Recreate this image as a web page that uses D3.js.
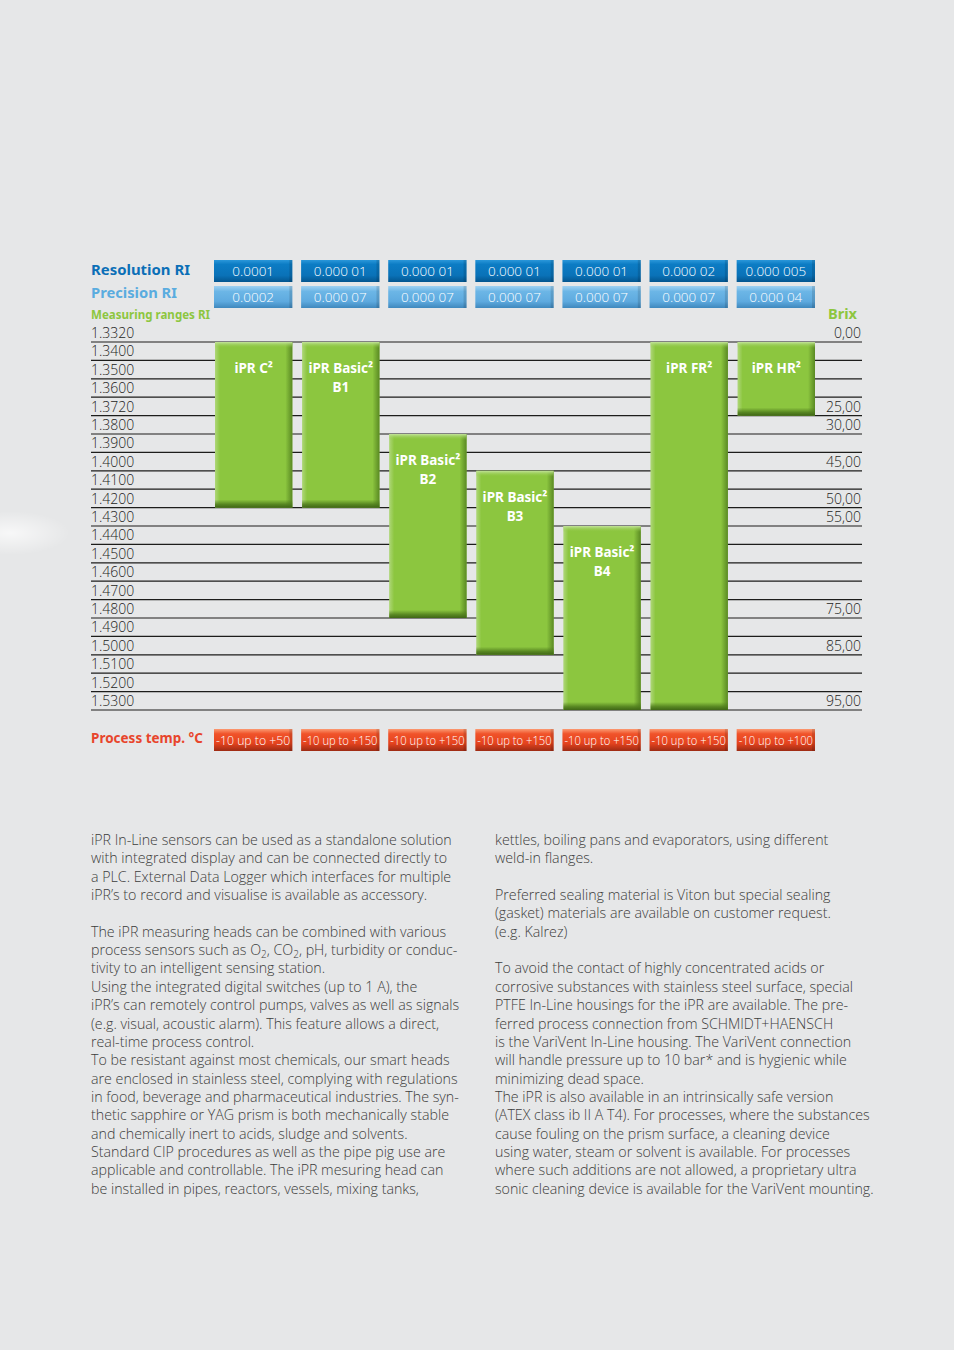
<!DOCTYPE html>
<html lang="en">
<head>
  <meta charset="UTF-8">
  <title>iPR measuring ranges</title>
  <style>
    * {box-sizing: border-box;}
    html, body { margin: 0; padding: 0; background: #e6e7e8; }
    svg { display: block; }
  </style>
</head>
<body>
  <svg id="chart"></svg>

  <script src="https://d3js.org/d3.v7.min.js"></script>
  <script>
    // --- data ---
    const riRows = ['1.3320','1.3400','1.3500','1.3600','1.3720','1.3800','1.3900','1.4000','1.4100','1.4200',
      '1.4300','1.4400','1.4500','1.4600','1.4700','1.4800','1.4900','1.5000','1.5100','1.5200','1.5300']
    const brixAt = ['1.3320','1.3720','1.3800','1.4000','1.4200','1.4300','1.4800','1.5000','1.5300']
    const brixLabels = ['0,00','25,00','30,00','45,00','50,00','55,00','75,00','85,00','95,00']

    const models = ['C2','B1','B2','B3','B4','FR','HR']
    const modelLabels = [['iPR C²'],['iPR Basic²','B1'],['iPR Basic²','B2'],['iPR Basic²','B3'],
      ['iPR Basic²','B4'],['iPR FR²'],['iPR HR²']]
    const rangeFrom = ['1.3320','1.3320','1.3800','1.4000','1.4300','1.3320','1.3320']
    const rangeTo   = ['1.4200','1.4200','1.4800','1.5000','1.5300','1.5300','1.3720']
    const resolution = ['0.0001','0.000 01','0.000 01','0.000 01','0.000 01','0.000 02','0.000 005']
    const precision  = ['0.0002','0.000 07','0.000 07','0.000 07','0.000 07','0.000 07','0.000 04']
    const temps = ['-10 up to +50','-10 up to +150','-10 up to +150','-10 up to +150','-10 up to +150','-10 up to +150','-10 up to +100']

    const leftText = [
      'iPR In-Line sensors can be used as a standalone solution',
      'with integrated display and can be connected directly to',
      'a PLC. External Data Logger which interfaces for multiple',
      'iPR’s to record and visualise is available as accessory.',
      '',
      'The iPR measuring heads can be combined with various',
      'process sensors such as O₂, CO₂, pH, turbidity or conduc-',
      'tivity to an intelligent sensing station.',
      'Using the integrated digital switches (up to 1 A), the',
      'iPR’s can remotely control pumps, valves as well as signals',
      '(e.g. visual, acoustic alarm). This feature allows a direct,',
      'real-time process control.',
      'To be resistant against most chemicals, our smart heads',
      'are enclosed in stainless steel, complying with regulations',
      'in food, beverage and pharmaceutical industries. The syn-',
      'thetic sapphire or YAG prism is both mechanically stable',
      'and chemically inert to acids, sludge and solvents.',
      'Standard CIP procedures as well as the pipe pig use are',
      'applicable and controllable. The iPR mesuring head can',
      'be installed in pipes, reactors, vessels, mixing tanks,'
    ]
    const rightText = [
      'kettles, boiling pans and evaporators, using different',
      'weld-in flanges.',
      '',
      'Preferred sealing material is Viton but special sealing',
      '(gasket) materials are available on customer request.',
      '(e.g. Kalrez)',
      '',
      'To avoid the contact of highly concentrated acids or',
      'corrosive substances with stainless steel surface, special',
      'PTFE In-Line housings for the iPR are available. The pre-',
      'ferred process connection from SCHMIDT+HAENSCH',
      'is the VariVent In-Line housing. The VariVent connection',
      'will handle pressure up to 10 bar* and is hygienic while',
      'minimizing dead space.',
      'The iPR is also available in an intrinsically safe version',
      '(ATEX class ib II A T4). For processes, where the substances',
      'cause fouling on the prism surface, a cleaning device',
      'using water, steam or solvent is available. For processes',
      'where such additions are not allowed, a proprietary ultra',
      'sonic cleaning device is available for the VariVent mounting.'
    ]

    const width = 954, height = 1350
    const boldFont = '"Noto Sans", "Open Sans", sans-serif'
    const lightFont = '"Open Sans", "Noto Sans", sans-serif'

    const svg = d3.select('#chart').attr('width', width).attr('height', height)
    const defs = svg.append('defs')

    svg.append('rect').attr('width', width).attr('height', height).attr('fill', '#e6e7e8')

    // soft light patch on the left edge
    const glow = defs.append('radialGradient').attr('id', 'glow')
    glow.append('stop').attr('offset', '0%').attr('stop-color', '#fff').attr('stop-opacity', 0.7)
    glow.append('stop').attr('offset', '100%').attr('stop-color', '#fff').attr('stop-opacity', 0)
    svg.append('ellipse').attr('cx', 10).attr('cy', 533).attr('rx', 60).attr('ry', 22).attr('fill', 'url(#glow)')

    function vGrad (id, stops) {
      const g = defs.append('linearGradient').attr('id', id).attr('x1', 0).attr('y1', 0).attr('x2', 0).attr('y2', 1)
      stops.forEach(s => g.append('stop').attr('offset', s[0]).attr('stop-color', s[1]).attr('stop-opacity', s[2] ?? 1))
    }
    function hGrad (id, stops) {
      const g = defs.append('linearGradient').attr('id', id).attr('x1', 0).attr('y1', 0).attr('x2', 1).attr('y2', 0)
      stops.forEach(s => g.append('stop').attr('offset', s[0]).attr('stop-color', s[1]).attr('stop-opacity', s[2] ?? 1))
    }
    vGrad('resG', [['0%', '#2a97da'], ['20%', '#0c7cc4'], ['70%', '#0a72b8'], ['100%', '#04568f']])
    vGrad('preG', [['0%', '#9fd1f2'], ['25%', '#6cb6e6'], ['70%', '#5eaadf'], ['100%', '#3f88bd']])
    vGrad('tmpG', [['0%', '#fb9a72'], ['22%', '#f0532a'], ['65%', '#e5431e'], ['100%', '#9d2b14']])
    vGrad('barTop', [['0%', '#c3e39b'], ['100%', '#8cc63f', 0]])
    vGrad('barBot', [['0%', '#4d7a1c', 0], ['60%', '#4d7a1c', 0.85], ['100%', '#3f6616']])
    hGrad('barRight', [['0%', '#4d7a1c', 0], ['100%', '#4d7a1c', 0.8]])
    hGrad('barLeft', [['0%', '#ffffff', 0.3], ['100%', '#ffffff', 0]])

    const x = d3.scaleBand().domain(models).range([215, 815]).paddingInner(0.112)
    const y = d3.scalePoint().domain(riRows).range([342, 710])
    const bw = x.bandwidth()

    // horizontal row lines
    svg.append('g').selectAll('line')
      .data(riRows)
      .join('line')
      .attr('x1', 91).attr('x2', 862)
      .attr('y1', d => y(d)).attr('y2', d => y(d))
      .attr('stroke', '#1d1d1b').attr('stroke-width', 1.2)

    // RI labels sit in the row above their line
    svg.append('g').selectAll('text')
      .data(riRows)
      .join('text')
      .attr('x', 91).attr('y', d => y(d) - 4)
      .attr('font-family', lightFont).attr('font-weight', 300).attr('font-size', 14)
      .attr('fill', '#1d1d1b')
      .text(d => d)

    svg.append('g').selectAll('text')
      .data(brixAt)
      .join('text')
      .attr('x', 861).attr('y', d => y(d) - 4)
      .attr('text-anchor', 'end')
      .attr('font-family', lightFont).attr('font-weight', 300).attr('font-size', 14)
      .attr('fill', '#1d1d1b')
      .text((d, i) => brixLabels[i])

    // range bars
    const bars = svg.append('g').selectAll('g')
      .data(models)
      .join('g')
      .attr('transform', (d, i) => `translate(${x(d)},${y(rangeFrom[i])})`)
    const bh = (d, i) => y(rangeTo[i]) - y(rangeFrom[i])
    bars.append('rect').attr('width', bw).attr('height', bh).attr('fill', '#8cc63f')
    bars.append('rect').attr('width', 5).attr('height', bh).attr('fill', 'url(#barLeft)')
    bars.append('rect').attr('x', bw - 7).attr('width', 7).attr('height', bh).attr('fill', 'url(#barRight)')
    bars.append('rect').attr('width', bw).attr('height', 6).attr('fill', 'url(#barTop)')
    bars.append('rect').attr('y', (d, i) => bh(d, i) - 8).attr('width', bw).attr('height', 8).attr('fill', 'url(#barBot)')
    bars.each(function (d, i) {
      d3.select(this).selectAll('text')
        .data(modelLabels[i])
        .join('text')
        .attr('x', bw / 2).attr('y', (t, j) => 31 + j * 19)
        .attr('text-anchor', 'middle')
        .attr('font-family', boldFont).attr('font-weight', 700).attr('font-size', 13.5)
        .attr('fill', '#fff')
        .text(t => t)
    })

    // value "buttons" above and below
    function buttons (values, top, grad) {
      const g = svg.append('g').selectAll('g')
        .data(values)
        .join('g')
        .attr('transform', (d, i) => `translate(${x(models[i]) - 1},${top})`)
      g.append('rect').attr('width', bw + 1).attr('height', 22).attr('fill', `url(#${grad})`)
      g.append('rect').attr('x', bw - 2).attr('width', 3).attr('height', 22).attr('fill', '#000').attr('opacity', 0.12)
      g.append('text')
        .attr('x', (bw + 1) / 2).attr('y', 15.5)
        .attr('text-anchor', 'middle')
        .attr('font-family', lightFont).attr('font-weight', 300).attr('font-size', 13.5)
        .attr('fill', '#fff')
        .text(d => d)
      return g
    }
    buttons(resolution, 260, 'resG')
    buttons(precision, 286, 'preG')
    const tg = buttons(temps, 729, 'tmpG')
    tg.select('text').attr('x', 2).attr('text-anchor', 'start')
      .each(function () { const w = this.getComputedTextLength(); if (w > bw - 2) d3.select(this).attr('textLength', bw - 3).attr('lengthAdjust', 'spacingAndGlyphs') })

    // headings
    const heads = [
      { t: 'Resolution RI', x: 91, y: 275, w: 99, c: '#0b6fb7', s: 14.5, a: 'start' },
      { t: 'Precision RI', x: 91, y: 298, w: 86, c: '#5aacdf', s: 14.5, a: 'start' },
      { t: 'Measuring ranges RI', x: 91, y: 319, w: 119, c: '#8dc63f', s: 13, a: 'start' },
      { t: 'Brix', x: 857, y: 319, w: 29, c: '#8dc63f', s: 14, a: 'end' },
      { t: 'Process temp. °C', x: 91, y: 743, w: 112, c: '#e8452c', s: 14, a: 'start' }
    ]
    svg.append('g').selectAll('text')
      .data(heads)
      .join('text')
      .attr('x', d => d.x).attr('y', d => d.y)
      .attr('text-anchor', d => d.a)
      .attr('font-family', boldFont).attr('font-weight', 700).attr('font-size', d => d.s)
      .attr('fill', d => d.c)
      .attr('textLength', d => d.w).attr('lengthAdjust', 'spacingAndGlyphs')
      .text(d => d.t)

    // body copy in two columns
    function column (lines, x0) {
      const g = svg.append('g').attr('font-family', lightFont).attr('font-weight', 300).attr('fill', '#3c3c3b')
      g.selectAll('text')
        .data(lines)
        .join('text')
        .attr('x', x0).attr('y', (d, i) => 845 + i * 18.35)
        .each(function (d) {
          const parts = d.split('₂')
          const el = d3.select(this)
          parts.forEach((p, k) => {
            el.append('tspan').text(p)
            if (k < parts.length - 1) {
              el.append('tspan').attr('font-size', '70%').attr('baseline-shift', '-25%').text('2')
            }
          })
        })
      return g
    }
    const lc = column(leftText, 91)
    const rc = column(rightText, 495)
    // size the copy so the first line spans as on the sheet
    lc.attr('font-size', 14); rc.attr('font-size', 14)
    const w0 = lc.select('text').node().getComputedTextLength()
    const fs = 14 * 361 / w0
    lc.attr('font-size', fs); rc.attr('font-size', fs)
  </script>
</body>
</html>
